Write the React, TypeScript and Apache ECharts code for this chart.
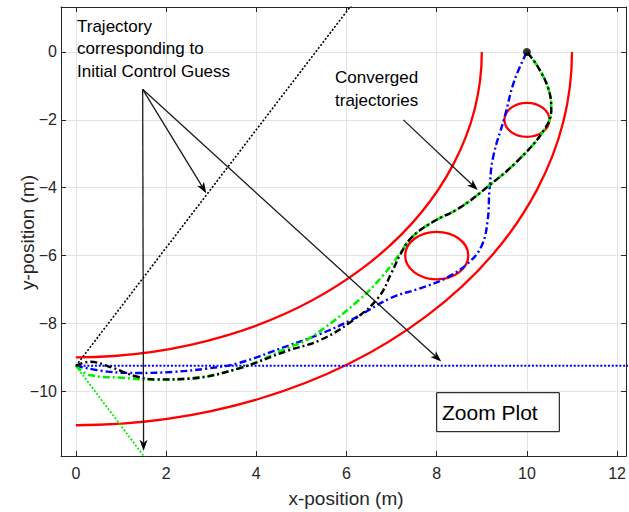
import { useEffect, useRef } from "react";
import * as echarts from "echarts";

// Axis ranges and tick positions
const xMin = -0.331;
const xMax = 12.2;
const yMin = -11.907;
const yMax = 1.326;
const xTicks = [0, 2, 4, 6, 8, 10, 12];
const yTicks = [-10, -8, -6, -4, -2, 0];

// Road boundaries: quarter arcs about the origin
const roadCenter = [0, 0];
const roadRadii = [9, 11];

// Circular obstacles
const obstacleX = [10, 8];
const obstacleY = [-2, -6];
const obstacleR = [0.5, 0.7];

const goalPoint = [10, 0];

// Trajectories produced by the initial control guesses
const guessBlack = [
  [0, -9.25],
  [6.5, 2.06],
];
const guessBlue = [
  [0, -9.25],
  [12.5, -9.25],
];
const guessGreen = [
  [0, -9.25],
  [1.6, -12.08],
];

// Converged trajectories
const convBlue = [
  [0, -9.25], [0.7, -9.42], [1.4, -9.46], [2.15, -9.43], [2.9, -9.33],
  [3.6, -9.17], [4.7, -8.66], [5.4, -8.32], [6.1, -7.9], [7.0, -7.24],
  [7.6, -6.98], [8.18, -6.68], [8.69, -6.23], [9.0, -5.7], [9.13, -4.96],
  [9.17, -4.07], [9.25, -3.1], [9.5, -1.95], [9.72, -0.85],
  [10, 0],
];
const convBlack = [
  [0, -9.25], [0.3, -9.13], [0.8, -9.3], [1.3, -9.55], [1.8, -9.65],
  [2.5, -9.63], [3.6, -9.33], [4.7, -8.8], [5.4, -8.5], [6.1, -7.95],
  [6.7, -7.25], [7.0, -6.5], [7.2, -5.95], [7.44, -5.47], [7.9, -5.02],
  [8.5, -4.6], [9.13, -3.97], [9.8, -3.2], [10.38, -2.3], [10.54, -1.7],
  [10.48, -1.1], [10.24, -0.43], [10, 0],
];
const convGreen = [
  [0, -9.25], [0.3, -9.52], [1.0, -9.6], [1.8, -9.66], [2.5, -9.62],
  [3.6, -9.33], [4.7, -8.72], [5.2, -8.42], [6.27, -7.32], [6.8, -6.6],
  [7.15, -6.0], [7.44, -5.47], [7.9, -5.02], [8.5, -4.6], [9.13, -3.97],
  [9.8, -3.2], [10.38, -2.3], [10.54, -1.7], [10.48, -1.1], [10.24, -0.43],
  [10, 0],
];

// Annotation anchors in data coordinates
const guessArrowTail = [1.48, -1.1];
const guessArrowTips = [
  [1.5, -11.75],
  [2.89, -4.16],
  [8.1, -9.12],
];
const convergedArrowTail = [7.26, -2.0];
const convergedArrowTip = [8.91, -4.07];

const FONT = "'Liberation Sans', Arial, Helvetica, sans-serif";
const AXIS_COLOR = "#262626";
const DASH_DOT = [7, 3, 2, 3];
const DOTTED = [2, 1.8];

const minusFmt = (v: number) => String(v).replace("-", "\u2212");

function arrow(from: number[], to: number[]) {
  const dx = to[0] - from[0];
  const dy = to[1] - from[1];
  const L = Math.hypot(dx, dy);
  const ux = dx / L;
  const uy = dy / L;
  const px = -uy;
  const py = ux;
  const len = 11;
  const hw = 4;
  const notch = 8;
  const back = [to[0] - ux * len, to[1] - uy * len];
  const notchPt = [to[0] - ux * notch, to[1] - uy * notch];
  return [
    {
      type: "line",
      z: 100,
      shape: { x1: from[0], y1: from[1], x2: notchPt[0], y2: notchPt[1] },
      style: { stroke: "#1a1a1a", lineWidth: 1.3 },
    },
    {
      type: "polygon",
      z: 100,
      shape: {
        points: [
          to,
          [back[0] + px * hw, back[1] + py * hw],
          notchPt,
          [back[0] - px * hw, back[1] - py * hw],
        ],
      },
      style: { fill: "#000" },
    },
  ];
}

export default function App() {
  const ref = useRef<HTMLDivElement>(null);

  useEffect(() => {
    if (!ref.current) return;
    const chart = echarts.init(ref.current, null, { renderer: "svg" });

    const axisLine = { show: true, onZero: false, lineStyle: { color: AXIS_COLOR, width: 1 } };
    const tick = (values: number[]) => ({
      show: true,
      inside: true,
      length: 5,
      customValues: values,
      lineStyle: { color: AXIS_COLOR, width: 1 },
    });
    const label = (values: number[], margin: number) => ({
      show: true,
      customValues: values,
      color: AXIS_COLOR,
      fontSize: 16,
      fontFamily: FONT,
      margin,
      formatter: minusFmt,
    });
    const grid = { show: true, lineStyle: { color: "#e3e3e3", width: 1 } };

    const lineSeries = (data: number[][], color: string, type: any, width: number, z: number, smooth: number | boolean) => ({
      type: "line",
      data,
      smooth,
      symbol: "none",
      z,
      clip: true,
      lineStyle: { color, width, type },
    });

    chart.setOption({
      animation: false,
      backgroundColor: "#fff",
      grid: { left: 61, top: 7, width: 568, height: 449 },
      xAxis: [
        {
          type: "value",
          position: "bottom",
          min: xMin,
          max: xMax,
          axisLine,
          axisTick: tick(xTicks),
          axisLabel: label(xTicks, 9),
          splitLine: grid,
        },
        {
          type: "value",
          position: "top",
          min: xMin,
          max: xMax,
          axisLine,
          axisTick: tick(xTicks),
          axisLabel: { show: false },
          splitLine: { show: false },
        },
      ],
      yAxis: [
        {
          type: "value",
          position: "left",
          min: yMin,
          max: yMax,
          axisLine,
          axisTick: tick(yTicks),
          axisLabel: label(yTicks, 4),
          splitLine: grid,
        },
        {
          type: "value",
          position: "right",
          min: yMin,
          max: yMax,
          axisLine,
          axisTick: tick(yTicks),
          axisLabel: { show: false },
          splitLine: { show: false },
        },
      ],
      series: [
        {
          type: "custom",
          z: 2,
          data: roadRadii.map((r) => [roadCenter[0], roadCenter[1], r]),
          encode: { x: 0, y: 1 },
          renderItem: (_p: any, api: any) => {
            const cx = api.value(0);
            const cy = api.value(1);
            const R = api.value(2);
            const a = api.coord([cx, cy - R]);
            const b = api.coord([cx + R, cy]);
            const s = api.size([R, R]);
            return {
              type: "path",
              shape: { pathData: `M${a[0]},${a[1]} A${s[0]},${s[1]} 0 0 0 ${b[0]},${b[1]}` },
              style: { fill: "none", stroke: "#ff0000", lineWidth: 2.3 },
            };
          },
        },
        {
          type: "custom",
          z: 2,
          data: obstacleX.map((x, i) => [x, obstacleY[i], obstacleR[i]]),
          encode: { x: 0, y: 1 },
          renderItem: (_p: any, api: any) => {
            const c = api.coord([api.value(0), api.value(1)]);
            const r = api.value(2);
            const s = api.size([r, r]);
            const rx = s[0];
            const ry = s[1];
            return {
              type: "path",
              shape: {
                pathData: `M${c[0] - rx},${c[1]} A${rx},${ry} 0 1 0 ${c[0] + rx},${c[1]} A${rx},${ry} 0 1 0 ${c[0] - rx},${c[1]} Z`,
              },
              style: { fill: "none", stroke: "#ff0000", lineWidth: 2.3 },
            };
          },
        },
        lineSeries(guessBlack, "#000000", DOTTED, 1.6, 3, false),
        lineSeries(guessBlue, "#0000ff", DOTTED, 2, 3, false),
        lineSeries(guessGreen, "#00f000", DOTTED, 1.8, 3, false),
        lineSeries(convBlue, "#0000ff", DASH_DOT, 2.4, 4, 0.4),
        lineSeries(convGreen, "#00f000", DASH_DOT, 2.6, 5, 0.4),
        lineSeries(convBlack, "#000000", DASH_DOT, 2.4, 6, 0.4),
        {
          type: "scatter",
          data: [goalPoint],
          symbol: "circle",
          symbolSize: 8,
          z: 7,
          itemStyle: { color: "#000" },
        },
      ],
    });

    const toPx = (p: number[]) => chart.convertToPixel({ xAxisIndex: 0, yAxisIndex: 0 }, p) as number[];

    const tail = toPx(guessArrowTail);
    const graphics: any[] = [];
    guessArrowTips.forEach((t) => graphics.push(...arrow(tail, toPx(t))));
    graphics.push(...arrow(toPx(convergedArrowTail), toPx(convergedArrowTip)));

    const txt = (text: string, x: number, y: number, size: number, extra: any = {}) => ({
      type: "text",
      x,
      y,
      z: 101,
      ...extra,
      style: {
        text,
        fontSize: size,
        fontFamily: FONT,
        lineHeight: 22.5,
        fill: extra.fill || "#000",
        align: extra.align || "left",
        verticalAlign: extra.verticalAlign || "top",
      },
    });

    graphics.push(txt("Trajectory\ncorresponding to\nInitial Control Guess", 77, 14.75, 17));
    graphics.push(txt("Converged\ntrajectories", 335, 66.5, 17));
    graphics.push({
      type: "rect",
      z: 100,
      shape: { x: 436.7, y: 392.7, width: 122.6, height: 39 },
      style: { fill: "#fff", stroke: "#000", lineWidth: 1 },
    });
    graphics.push(txt("Zoom Plot", 442, 412, 21, { verticalAlign: "middle" }));
    graphics.push(
      txt("x-position (m)", 346, 498, 19, { align: "center", verticalAlign: "middle", fill: AXIS_COLOR })
    );
    graphics.push({
      ...txt("y-position (m)", 27, 232.5, 19, { align: "center", verticalAlign: "middle", fill: AXIS_COLOR }),
      rotation: Math.PI / 2,
    });

    chart.setOption({ graphic: graphics });

    return () => chart.dispose();
  }, []);

  return (
    <div
      ref={ref}
      style={{ position: "absolute", left: 0, top: 0, width: 629, height: 512 }}
    />
  );
}
